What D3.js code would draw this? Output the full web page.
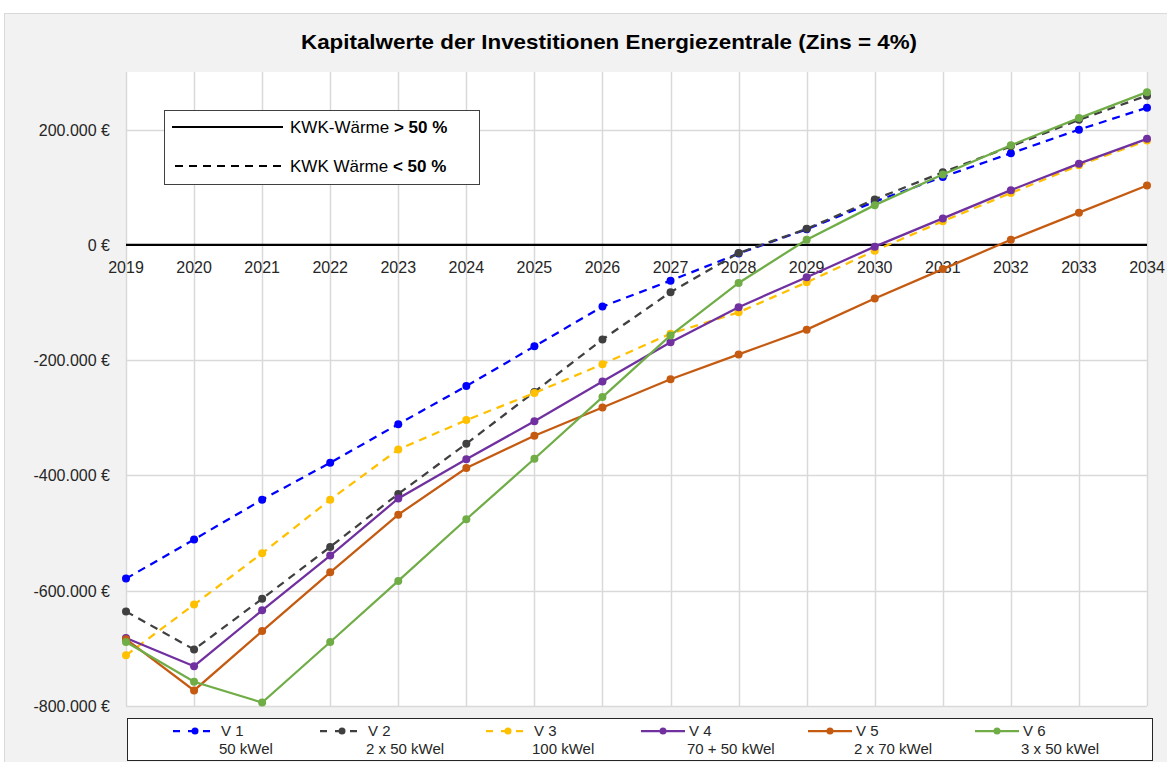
<!DOCTYPE html>
<html lang="de">
<head>
<meta charset="UTF-8">
<title>Kapitalwerte der Investitionen Energiezentrale</title>
<script src="https://d3js.org/d3.v7.min.js"></script>
<style>
  body { margin: 0; background: #fff; font-family: 'Liberation Sans', Arial, sans-serif; }
  svg { display: block; }
  .tick-label { fill: #262626; font-size: 16px; }
  .leg-text { fill: #262626; font-size: 15px; }
</style>
</head>
<body>
<div id="chart"></div>
<script>
  const years = [2019, 2020, 2021, 2022, 2023, 2024, 2025, 2026, 2027, 2028, 2029, 2030, 2031, 2032, 2033, 2034];
  const yTicks = [-800000, -600000, -400000, -200000, 0, 200000];

  const v1 = [-579000, -511000, -442000, -378000, -311000, -245000, -176000, -107000, -62000, -15000, 27000, 75000, 118000, 159000, 200000, 238000];
  const v2 = [-636000, -702000, -614000, -524000, -432000, -345000, -255000, -164000, -82000, -14000, 28000, 79000, 126000, 171000, 217000, 259000];
  const v3 = [-712000, -624000, -535000, -442000, -355000, -304000, -257000, -207000, -154000, -117000, -65000, -10000, 41000, 90000, 138000, 181000];
  const v4 = [-682000, -731000, -634000, -539000, -440000, -372000, -306000, -237000, -169000, -108000, -56000, -3000, 46000, 95000, 141000, 184000];
  const v5 = [-684000, -773000, -670000, -568000, -468000, -387000, -331000, -282000, -233000, -190000, -147000, -93000, -42000, 9000, 56000, 103000];
  const v6 = [-689000, -758000, -794000, -689000, -583000, -476000, -371000, -264000, -157000, -66000, 9000, 69000, 122000, 173000, 220000, 265000];

  const seriesNames = ["V 1", "V 2", "V 3", "V 4", "V 5", "V 6"];
  const seriesSub = ["50 kWel", "2 x 50 kWel", "100 kWel", "70 + 50 kWel", "2 x 70 kWel", "3 x 50 kWel"];
  const seriesColors = ["#0000ff", "#404040", "#ffc000", "#7030a0", "#c55a11", "#70ad47"];
  const seriesDashed = [true, true, true, false, false, false];
  const seriesValues = [v1, v2, v3, v4, v5, v6];

  const title = "Kapitalwerte der Investitionen Energiezentrale (Zins = 4%)";

  const W = 1167, H = 762;
  const plot = { left: 126, right: 1147, top: 72, bottom: 706 };

  const svg = d3.select("#chart").append("svg")
    .attr("width", W)
    .attr("height", H);

  // chart frame
  svg.append("rect")
    .attr("x", 4.5).attr("y", 13.5)
    .attr("width", W + 10).attr("height", H + 10)
    .attr("fill", "#f2f2f2")
    .attr("stroke", "#d9d9d9");

  svg.append("text")
    .attr("x", 609).attr("y", 49)
    .attr("text-anchor", "middle")
    .attr("textLength", 616)
    .attr("lengthAdjust", "spacingAndGlyphs")
    .style("font-size", "21px")
    .style("font-weight", "bold")
    .style("fill", "#000")
    .text(title);

  const x = d3.scaleLinear().domain([2019, 2034]).range([plot.left, plot.right]);
  const y = d3.scaleLinear().domain([-800000, 300000]).range([plot.bottom, plot.top]);

  svg.append("rect")
    .attr("x", plot.left).attr("y", plot.top)
    .attr("width", plot.right - plot.left).attr("height", plot.bottom - plot.top)
    .attr("fill", "#fff");

  // gridlines
  svg.append("g").selectAll("line")
    .data(yTicks.filter(d => d !== 0))
    .join("line")
    .attr("x1", plot.left).attr("x2", plot.right)
    .attr("y1", d => Math.round(y(d)) + 0.5).attr("y2", d => Math.round(y(d)) + 0.5)
    .attr("stroke", "#d9d9d9").attr("stroke-width", 1.5);

  svg.append("g").selectAll("line")
    .data(years)
    .join("line")
    .attr("x1", d => Math.round(x(d)) + 0.5).attr("x2", d => Math.round(x(d)) + 0.5)
    .attr("y1", plot.top).attr("y2", plot.bottom)
    .attr("stroke", "#d9d9d9").attr("stroke-width", 1.5);

  // y axis labels
  const de = d3.formatLocale({ decimal: ",", thousands: ".", grouping: [3], currency: ["", " €"], minus: "-" });
  const fmt = de.format(",.0f");
  svg.append("g").selectAll("text")
    .data(yTicks)
    .join("text")
    .attr("class", "tick-label")
    .attr("x", 110)
    .attr("y", d => y(d) + 6)
    .attr("text-anchor", "end")
    .text(d => fmt(d) + " €");

  // zero line (category axis)
  svg.append("line")
    .attr("x1", plot.left).attr("x2", plot.right)
    .attr("y1", y(0)).attr("y2", y(0))
    .attr("stroke", "#000").attr("stroke-width", 2.25);

  svg.append("g").selectAll("text")
    .data(years)
    .join("text")
    .attr("class", "tick-label")
    .attr("x", d => x(d))
    .attr("y", y(0) + 28)
    .attr("text-anchor", "middle")
    .text(d => d);

  // series
  const line = d3.line()
    .x((d, i) => x(years[i]))
    .y(d => y(d));

  seriesValues.forEach((vals, s) => {
    svg.append("path")
      .datum(vals)
      .attr("fill", "none")
      .attr("stroke", seriesColors[s])
      .attr("stroke-width", 2.25)
      .attr("stroke-dasharray", seriesDashed[s] ? "8,6" : null)
      .attr("d", line);
    svg.append("g").selectAll("circle")
      .data(vals)
      .join("circle")
      .attr("cx", (d, i) => x(years[i]))
      .attr("cy", d => y(d))
      .attr("r", 4)
      .attr("fill", seriesColors[s]);
  });

  // upper-left legend box
  const lg = svg.append("g");
  lg.append("rect")
    .attr("x", 164.5).attr("y", 110.5)
    .attr("width", 315).attr("height", 74)
    .attr("fill", "#fff")
    .attr("stroke", "#404040");
  lg.append("line")
    .attr("x1", 172).attr("x2", 283).attr("y1", 127).attr("y2", 127)
    .attr("stroke", "#000").attr("stroke-width", 2);
  lg.append("line")
    .attr("x1", 175).attr("x2", 283).attr("y1", 166).attr("y2", 166)
    .attr("stroke", "#000").attr("stroke-width", 2)
    .attr("stroke-dasharray", "8,6");
  const t1 = lg.append("text").attr("x", 290).attr("y", 133).style("font-size", "17px").style("fill", "#000");
  t1.append("tspan").text("KWK-Wärme ");
  t1.append("tspan").style("font-weight", "bold").text("> 50 %");
  const t2 = lg.append("text").attr("x", 290).attr("y", 172).style("font-size", "17px").style("fill", "#000");
  t2.append("tspan").text("KWK Wärme ");
  t2.append("tspan").style("font-weight", "bold").text("< 50 %");

  // bottom legend
  const bl = svg.append("g");
  bl.append("rect")
    .attr("x", 127.5).attr("y", 718.5)
    .attr("width", 1025).attr("height", 42)
    .attr("fill", "#fff")
    .attr("stroke", "#262626");

  const lx = d3.scaleOrdinal().domain(seriesNames).range([173, 320, 486, 641, 808, 975]);
  seriesNames.forEach((name, s) => {
    const x0 = lx(name);
    bl.append("line")
      .attr("x1", x0).attr("x2", x0 + 44)
      .attr("y1", 731).attr("y2", 731)
      .attr("stroke", seriesColors[s]).attr("stroke-width", 2.25)
      .attr("stroke-dasharray", seriesDashed[s] ? "7,8" : null);
    bl.append("circle")
      .attr("cx", x0 + 22).attr("cy", 731).attr("r", 3.5)
      .attr("fill", seriesColors[s]);
    bl.append("text").attr("class", "leg-text")
      .attr("x", x0 + 48).attr("y", 736).text(name);
    bl.append("text").attr("class", "leg-text")
      .attr("x", x0 + 46).attr("y", 754).text(seriesSub[s]);
  });
</script>
</body>
</html>
